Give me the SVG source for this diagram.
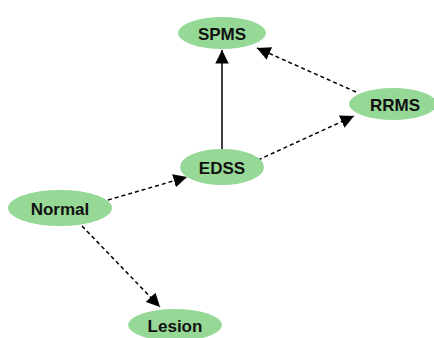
<svg xmlns="http://www.w3.org/2000/svg" width="434" height="338" viewBox="0 0 434 338">
<style>
.n ellipse{fill:#96d896;stroke:none}
.n text{font-family:"Liberation Sans",Arial,sans-serif;font-weight:bold;font-size:17px;fill:#111;text-anchor:middle;dominant-baseline:central}
.e{stroke:#000;stroke-width:1.5;fill:none}
.d{stroke-dasharray:4,3}
</style>
<defs>
<marker id="a" viewBox="0 0 10 10" refX="10" refY="5" markerWidth="9" markerHeight="9" markerUnits="strokeWidth" orient="auto"><path d="M0,0L10,5L0,10z" fill="#000"/></marker>
</defs>
<rect width="434" height="338" fill="#fff"/>
<g id="edges">
<line class="e" x1="222" y1="150" x2="222" y2="50" marker-end="url(#a)"/>
<line class="e d" x1="356" y1="92" x2="257" y2="48" marker-end="url(#a)"/>
<line class="e d" x1="258" y1="160" x2="354" y2="116" marker-end="url(#a)"/>
<line class="e d" x1="108" y1="200" x2="187" y2="177" marker-end="url(#a)"/>
<line class="e d" x1="82" y1="226" x2="160" y2="307" marker-end="url(#a)"/>
</g>
<g id="SPMS" class="n"><ellipse cx="222" cy="33" rx="44" ry="16"/><text x="222" y="34">SPMS</text></g>
<g id="RRMS" class="n"><ellipse cx="393" cy="104" rx="44" ry="16"/><text x="395" y="105">RRMS</text></g>
<g id="EDSS" class="n"><ellipse cx="222" cy="167" rx="42" ry="18"/><text x="222" y="168">EDSS</text></g>
<g id="Normal" class="n"><ellipse cx="60" cy="208" rx="52" ry="18"/><text x="60" y="209">Normal</text></g>
<g id="Lesion" class="n"><ellipse cx="175" cy="325" rx="47" ry="16"/><text x="175" y="326">Lesion</text></g>
</svg>
